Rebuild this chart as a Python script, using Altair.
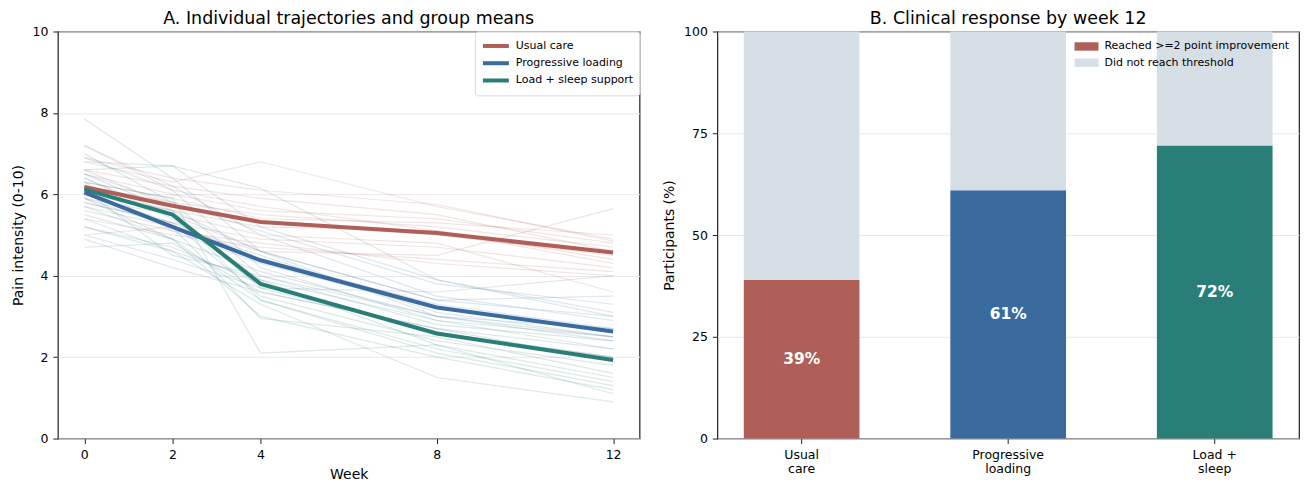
import altair as alt
import pandas as pd

FONT = "DejaVu Sans"

weeks = [0, 2, 4, 8, 12]
groups = ["Usual care", "Progressive loading", "Load + sleep support"]
group_colors = ["#b05f58", "#3a6b9e", "#297e78"]

# individual trajectories (pain at weeks 0, 2, 4, 8, 12)
usual_care_ind = [
    [6.8, 6.3, 6.8, 5.7, 4.9],
    [6.5, 6.0, 5.6, 5.4, 4.8],
    [5.9, 5.5, 5.0, 4.8, 3.6],
    [6.3, 5.9, 5.4, 5.3, 5.0],
    [5.6, 5.1, 4.8, 4.3, 4.0],
    [6.6, 6.2, 5.9, 5.5, 4.6],
    [5.0, 5.2, 4.6, 4.5, 5.65],
    [6.1, 5.6, 5.2, 5.1, 4.4],
    [6.9, 6.4, 6.1, 5.75, 4.85],
    [5.8, 5.3, 4.9, 4.7, 4.2],
    [6.2, 5.8, 5.5, 5.2, 4.7],
    [6.6, 5.7, 5.3, 5.0, 4.5],
    [5.4, 5.0, 4.7, 4.4, 4.1],
    [7.2, 6.1, 5.7, 5.1, 4.3],
]
progressive_ind = [
    [7.2, 6.2, 5.0, 3.5, 2.9],
    [6.5, 5.6, 4.6, 3.4, 3.0],
    [5.4, 4.6, 3.9, 2.9, 2.5],
    [6.0, 5.3, 4.4, 3.3, 2.7],
    [5.0, 4.4, 3.7, 3.6, 4.0],
    [6.8, 6.7, 5.2, 3.9, 3.1],
    [5.7, 4.9, 4.1, 3.0, 2.4],
    [6.3, 5.1, 4.3, 3.2, 2.6],
    [5.2, 4.7, 3.8, 2.6, 2.0],
    [7.0, 5.8, 5.1, 3.8, 3.3],
    [5.9, 5.2, 4.5, 3.1, 2.5],
    [4.9, 4.2, 3.6, 2.7, 2.2],
    [6.4, 5.5, 4.6, 3.4, 3.5],
    [6.1, 4.5, 4.0, 3.0, 2.7],
]
load_sleep_ind = [
    [7.85, 6.4, 4.6, 3.0, 2.5],
    [6.6, 6.7, 6.15, 3.9, 3.0],
    [6.3, 5.9, 2.1, 2.3, 1.5],
    [5.8, 5.3, 3.5, 2.4, 1.8],
    [6.0, 5.6, 3.4, 2.2, 1.4],
    [5.5, 4.9, 3.0, 2.0, 1.2],
    [6.9, 6.1, 4.2, 2.9, 2.2],
    [5.2, 4.6, 3.3, 1.5, 0.9],
    [6.2, 5.5, 3.7, 2.6, 2.0],
    [5.7, 5.2, 2.95, 2.5, 1.6],
    [6.5, 5.8, 4.0, 2.8, 2.4],
    [4.7, 4.8, 3.6, 2.7, 1.9],
    [6.4, 5.4, 3.9, 2.3, 1.1],
    [5.9, 4.9, 3.4, 2.1, 1.3],
]

# group means
usual_care_mean = [6.18, 5.72, 5.32, 5.05, 4.57]
progressive_mean = [6.05, 5.20, 4.38, 3.22, 2.63]
load_sleep_mean = [6.12, 5.50, 3.80, 2.58, 1.93]

# panel B
bar_groups = ["Usual\ncare", "Progressive\nloading", "Load +\nsleep"]
responders_pct = [39, 61, 72]
status_labels = ["Reached >=2 point improvement", "Did not reach threshold"]
not_reached_color = "#d6dee6"

# ---- build tables ----
ind_rows = []
for g, ind in zip(groups, [usual_care_ind, progressive_ind, load_sleep_ind]):
    for i, traj in enumerate(ind):
        for w, v in zip(weeks, traj):
            ind_rows.append({"group": g, "id": f"{g}-{i}", "week": w, "pain": v})
ind_df = pd.DataFrame(ind_rows)

mean_rows = []
for g, m in zip(groups, [usual_care_mean, progressive_mean, load_sleep_mean]):
    for w, v in zip(weeks, m):
        mean_rows.append({"group": g, "week": w, "pain": v})
mean_df = pd.DataFrame(mean_rows)

PW, PH = 583, 408

left_legend = alt.Legend(
    title=None, orient="top-right", offset=0, padding=6,
    strokeColor="#d9d9d9", fillColor="rgba(255,255,255,0.8)", cornerRadius=3,
    symbolType="M-1,0H3", symbolSize=169, symbolStrokeWidth=4,
    labelOffset=18, labelFontSize=11, labelFont=FONT, rowPadding=0.3, labelLimit=400,
)
color_scale = alt.Scale(domain=groups, range=group_colors)
xw = alt.X("week:Q", scale=alt.Scale(domain=[-0.6, 12.6], nice=False),
           axis=alt.Axis(values=weeks, title="Week", grid=False, format="d", titlePadding=7))
yp = alt.Y("pain:Q", scale=alt.Scale(domain=[0, 10], nice=False),
           axis=alt.Axis(values=[0, 2, 4, 6, 8, 10], title="Pain intensity (0-10)", grid=True))

ind_layer = alt.Chart(ind_df).mark_line(strokeWidth=1.2, opacity=0.17).encode(
    x=xw, y=yp,
    stroke=alt.Stroke("group:N", scale=color_scale, legend=None),
    detail="id:N",
)
mean_layer = alt.Chart(mean_df).mark_line(strokeWidth=4).encode(
    x=xw, y=yp,
    color=alt.Color("group:N", scale=color_scale, legend=left_legend),
)
left = alt.layer(ind_layer, mean_layer).properties(
    width=PW, height=PH,
    title=alt.TitleParams("A. Individual trajectories and group means",
                          fontSize=17.5, font=FONT, fontWeight="normal", offset=-2),
)

bar_rows = []
for g, p in zip(bar_groups, responders_pct):
    bar_rows.append({"grp": g, "key": g, "y0": 0, "y1": p, "mid": p / 2, "label": f"{p}%"})
    bar_rows.append({"grp": g, "key": "none", "y0": p, "y1": 100, "mid": None, "label": ""})
bar_df = pd.DataFrame(bar_rows)

xb = alt.X("grp:N", sort=bar_groups,
           scale=alt.Scale(paddingInner=0.44, paddingOuter=0.128),
           axis=alt.Axis(title=None, labelAngle=0, labelExpr="split(datum.label, '\\n')",
                         labelLineHeight=14))
legend_expr = (f"datum.value == 'none' ? '{status_labels[1]}' : '{status_labels[0]}'")
bars = alt.Chart(bar_df).mark_bar().encode(
    x=xb,
    y=alt.Y("y0:Q", scale=alt.Scale(domain=[0, 100], nice=False),
            axis=alt.Axis(values=[0, 25, 50, 75, 100], title="Participants (%)", grid=True)),
    y2="y1:Q",
    color=alt.Color("key:N",
                    scale=alt.Scale(domain=bar_groups + ["none"],
                                    range=group_colors + [not_reached_color]),
                    legend=alt.Legend(title=None, orient="top-right", offset=0, padding=9,
                                      values=[bar_groups[0], "none"], labelExpr=legend_expr,
                                      symbolType="M-1,-0.7H3V0.7H-1Z", symbolSize=144,
                                      symbolStrokeWidth=0, labelOffset=18, labelLimit=400,
                                      labelFontSize=11, labelFont=FONT, rowPadding=5.3)),
)
labels = alt.Chart(bar_df).transform_filter("datum.label != ''").mark_text(
    color="white", fontWeight="bold", fontSize=15.5, font=FONT
).encode(x=alt.X("grp:N", sort=bar_groups), y=alt.Y("mid:Q"), text="label:N")

right = alt.layer(bars, labels).properties(
    width=PW, height=PH,
    title=alt.TitleParams("B. Clinical response by week 12",
                          fontSize=17.5, font=FONT, fontWeight="normal", offset=-2),
)

chart = alt.hconcat(left, right, spacing=20).resolve_scale(
    color="independent"
).properties(
    padding={"left": 2, "top": 0, "right": 0, "bottom": 0}
).configure(font=FONT).configure_view(
    stroke="#222222", strokeWidth=1.2
).configure_axis(
    domain=False, tickColor="#222222", tickSize=5, tickWidth=1, labelPadding=5,
    labelColor="black", titleColor="black", titlePadding=7,
    labelFont=FONT, titleFont=FONT, labelFontSize=12.5, titleFontSize=14,
    titleFontWeight="normal", gridColor="#e9e9e9", gridWidth=1,
).configure_legend(labelColor="black")

chart.save("out.html", embed_options={"renderer": "svg", "actions": False})
